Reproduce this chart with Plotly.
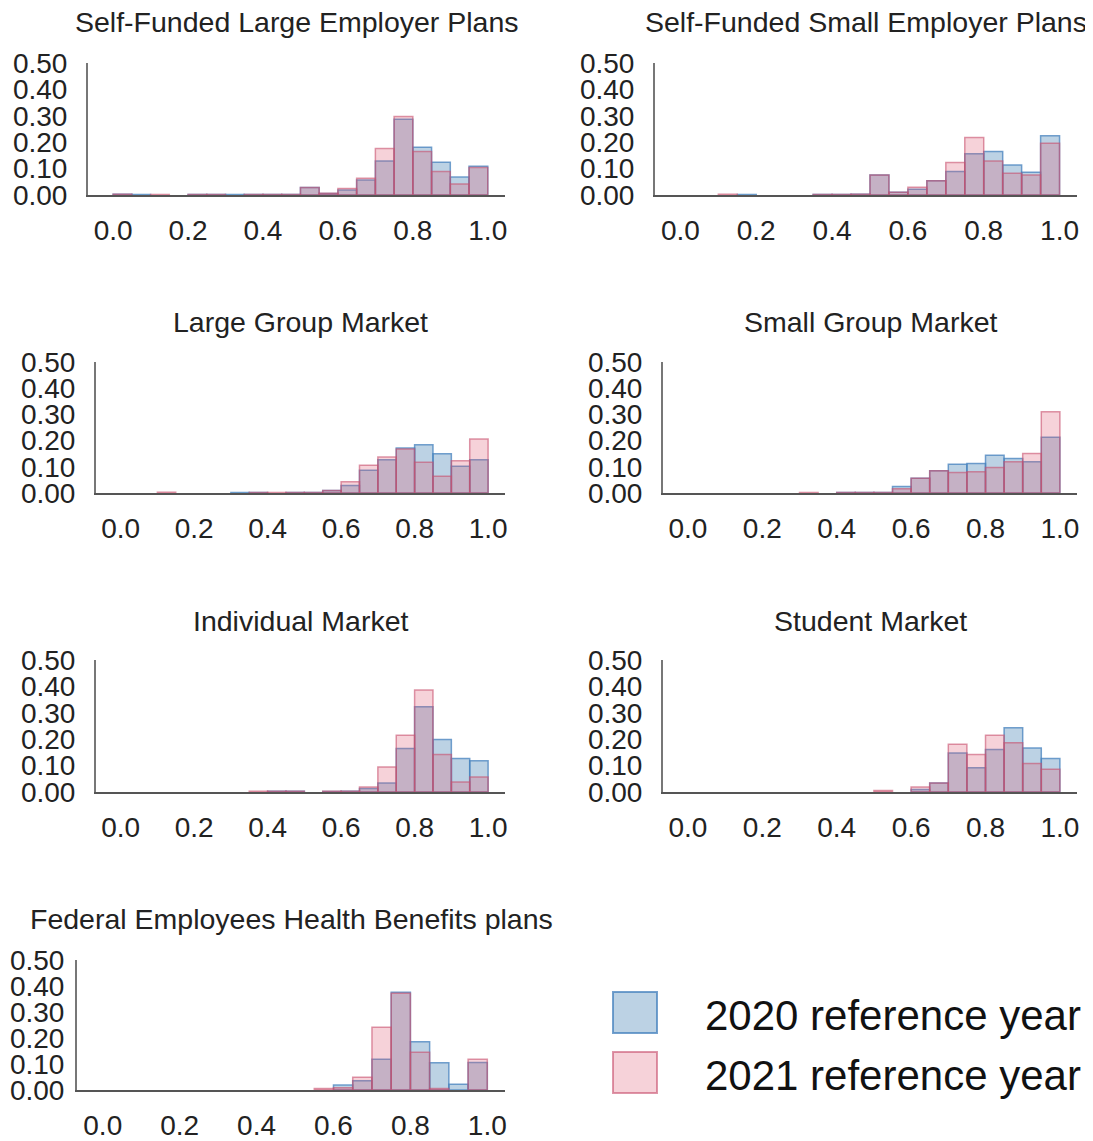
import plotly.graph_objects as go

W, H = 1093, 1141
OFF = 8  # default page body margin in the exported html
FW, FH = W - OFF, H - OFF

bin_edges = [round(i * 0.05, 2) for i in range(21)]
bin_centers = [round((bin_edges[i] + bin_edges[i + 1]) / 2, 3) for i in range(20)]

titles = [
    "Self-Funded Large Employer Plans",
    "Self-Funded Small Employer Plans",
    "Large Group Market",
    "Small Group Market",
    "Individual Market",
    "Student Market",
    "Federal Employees Health Benefits plans",
]

series_names = ["2020 reference year", "2021 reference year"]

sf_large_2020 = [0.003, 0.002, 0, 0, 0.002, 0.002, 0.002, 0.002, 0.002, 0.002, 0.028, 0.006, 0.019, 0.057, 0.129, 0.287, 0.181, 0.124, 0.068, 0.109]
sf_large_2021 = [0.003, 0, 0.002, 0, 0.002, 0.002, 0, 0.002, 0.002, 0.002, 0.028, 0.007, 0.025, 0.063, 0.176, 0.297, 0.165, 0.089, 0.042, 0.104]

sf_small_2020 = [0, 0, 0, 0.002, 0, 0, 0, 0.002, 0.002, 0.003, 0.076, 0.010, 0.022, 0.054, 0.089, 0.156, 0.165, 0.114, 0.086, 0.224]
sf_small_2021 = [0, 0, 0.003, 0, 0, 0, 0, 0.002, 0.002, 0.003, 0.076, 0.010, 0.029, 0.054, 0.123, 0.218, 0.129, 0.082, 0.076, 0.196]

large_group_2020 = [0, 0, 0, 0, 0, 0, 0.002, 0.002, 0, 0.002, 0.002, 0.010, 0.029, 0.087, 0.127, 0.172, 0.184, 0.150, 0.102, 0.127]
large_group_2021 = [0, 0, 0.003, 0, 0, 0, 0, 0.002, 0.002, 0.002, 0.002, 0.010, 0.043, 0.106, 0.137, 0.168, 0.117, 0.064, 0.123, 0.206]

small_group_2020 = [0, 0, 0, 0, 0, 0, 0, 0, 0.002, 0.002, 0.002, 0.025, 0.056, 0.085, 0.110, 0.113, 0.144, 0.132, 0.119, 0.213]
small_group_2021 = [0, 0, 0, 0, 0, 0, 0.002, 0, 0.002, 0.002, 0.002, 0.016, 0.056, 0.085, 0.078, 0.081, 0.097, 0.119, 0.151, 0.310]

individual_2020 = [0, 0, 0, 0, 0, 0, 0, 0, 0.003, 0.003, 0, 0.002, 0.003, 0.013, 0.034, 0.165, 0.323, 0.199, 0.127, 0.118]
individual_2021 = [0, 0, 0, 0, 0, 0, 0, 0.003, 0.003, 0.003, 0, 0.003, 0.003, 0.019, 0.095, 0.215, 0.386, 0.142, 0.038, 0.057]

student_2020 = [0, 0, 0, 0, 0, 0, 0, 0, 0, 0, 0, 0, 0.009, 0.034, 0.148, 0.092, 0.161, 0.243, 0.167, 0.127]
student_2021 = [0, 0, 0, 0, 0, 0, 0, 0, 0, 0, 0.006, 0, 0.019, 0.034, 0.181, 0.142, 0.215, 0.187, 0.108, 0.086]

fehb_2020 = [0, 0, 0, 0, 0, 0, 0, 0, 0, 0, 0, 0, 0.019, 0.036, 0.118, 0.376, 0.186, 0.105, 0.022, 0.106]
fehb_2021 = [0, 0, 0, 0, 0, 0, 0, 0, 0, 0, 0, 0.006, 0.009, 0.049, 0.241, 0.372, 0.145, 0.006, 0, 0.118]

panel_data = [
    (sf_large_2020, sf_large_2021),
    (sf_small_2020, sf_small_2021),
    (large_group_2020, large_group_2021),
    (small_group_2020, small_group_2021),
    (individual_2020, individual_2021),
    (student_2020, student_2021),
    (fehb_2020, fehb_2021),
]

x_tick_vals = [0.0, 0.2, 0.4, 0.6, 0.8, 1.0]
x_tick_text = ["0.0", "0.2", "0.4", "0.6", "0.8", "1.0"]
y_tick_vals = [0.0, 0.1, 0.2, 0.3, 0.4, 0.5]
y_tick_text = ["0.00", "0.10", "0.20", "0.30", "0.40", "0.50"]

# pixel boxes of each panel in the screenshot: (left, right, top, bottom)
boxes = [
    (88, 505, 63, 195),
    (655, 1077, 63, 195),
    (96, 505, 362, 493),
    (663, 1077, 362, 493),
    (96, 505, 660, 792),
    (663, 1077, 660, 792),
    (77, 505, 960, 1090),
]
title_y = [22, 22, 322, 322, 621, 621, 919]
y_standoff = [13, 13, 13, 13, 13, 13, 5]


def px(x):
    return (x - OFF) / FW


def py(y):
    return 1 - (y - OFF) / FH


fill_colors = ["rgba(70,130,180,0.36)", "rgba(220,90,115,0.27)"]
line_colors = ["rgba(70,130,190,0.75)", "rgba(200,80,110,0.6)"]

FONT = "Liberation Sans, Arial, sans-serif"
TXT = "#222222"

fig = go.Figure()
layout = dict(
    template="none",
    width=FW, height=FH, autosize=False,
    margin=dict(l=0, r=0, t=0, b=0, pad=0),
    paper_bgcolor="white", plot_bgcolor="white",
    barmode="overlay", showlegend=False,
    font=dict(family=FONT, color=TXT),
)
annotations = []
shapes = []

for i, (box, vals) in enumerate(zip(boxes, panel_data)):
    n = i + 1
    xa = "x" if n == 1 else f"x{n}"
    ya = "y" if n == 1 else f"y{n}"
    for s in range(2):
        fig.add_trace(go.Bar(
            x=bin_centers,
            y=[v if v > 0 else None for v in vals[s]],
            width=0.05,
            marker=dict(color=fill_colors[s], line=dict(color=line_colors[s], width=1.5)),
            name=series_names[s],
            xaxis=xa, yaxis=ya,
        ))
    l, r, t, b = box
    layout["xaxis" if n == 1 else f"xaxis{n}"] = dict(
        domain=[px(l), px(r)], anchor=ya, range=[-0.067, 1.046], automargin=False,
        showgrid=False, zeroline=False, showline=True, linecolor="#555555", linewidth=1.5,
        tickvals=x_tick_vals, ticktext=x_tick_text, ticks="", ticklabelstandoff=10,
        tickfont=dict(size=28, color=TXT, family=FONT), fixedrange=True,
    )
    layout["yaxis" if n == 1 else f"yaxis{n}"] = dict(
        domain=[py(b), py(t)], anchor=xa, range=[0, 0.5], automargin=False,
        showgrid=False, zeroline=False, showline=True, linecolor="#777777", linewidth=2,
        tickvals=y_tick_vals, ticktext=y_tick_text, ticks="", ticklabelstandoff=y_standoff[i],
        tickfont=dict(size=28, color=TXT, family=FONT), fixedrange=True,
    )
    annotations.append(dict(
        text=titles[i], x=px((l + r) / 2), y=py(title_y[i]),
        xref="paper", yref="paper", xanchor="center", yanchor="middle",
        showarrow=False, font=dict(size=28.5, color=TXT, family=FONT),
    ))

# legend drawn as layout shapes + text
legend_rows = [(992, 1033, 1015), (1052, 1093, 1075)]
for s, (t, b, cy) in enumerate(legend_rows):
    shapes.append(dict(
        type="rect", xref="paper", yref="paper",
        x0=px(613), x1=px(657), y0=py(b), y1=py(t),
        fillcolor=fill_colors[s], line=dict(color=line_colors[s], width=2),
    ))
    annotations.append(dict(
        text=series_names[s], x=px(703), y=py(cy),
        xref="paper", yref="paper", xanchor="left", yanchor="middle",
        showarrow=False, font=dict(size=42, color="#111111", family=FONT),
    ))

layout["annotations"] = annotations
layout["shapes"] = shapes
fig.update_layout(**layout)
fig.write_html("out.html")
